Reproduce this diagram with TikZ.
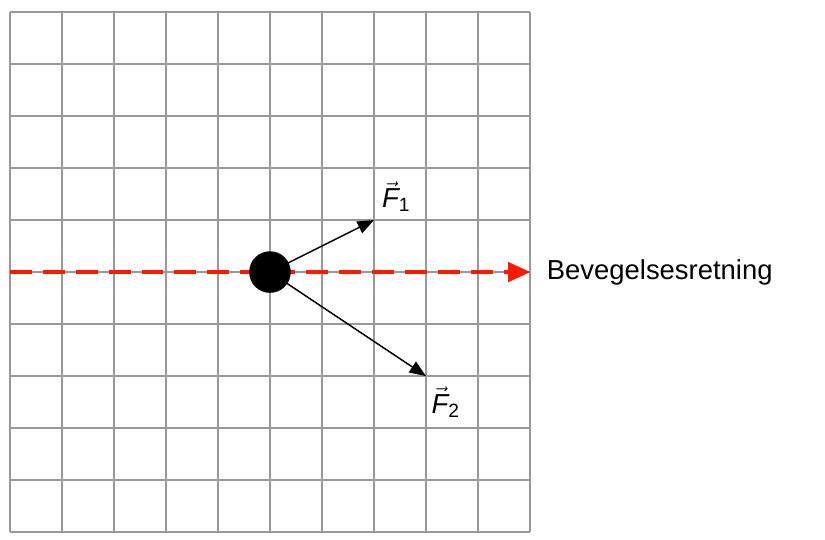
\documentclass[tikz,border=0pt]{standalone}
\usepackage{amsmath}
\usepackage{fontspec}
\setmainfont{Liberation Sans}
\usetikzlibrary{arrows.meta}
\begin{document}
\begin{tikzpicture}[
    force/.style={-{Triangle[length=9pt,width=7pt]},thick},
    lbl/.style={font=\fontsize{15}{17}\selectfont}]
        \useasboundingbox(-0.19,-0.15)rectangle(15.67,10.23);
        \draw[gray!80,thick](0,0)grid(10,10);

        \coordinate(O)at(5,5);
        \coordinate(L)at(0,5);
        \coordinate(R)at(10,5);
        \coordinate(A)at(7,6);
        \coordinate(B)at(8,3);

        \draw[red!80!orange,line width=2pt,dash pattern=on 12pt off 6pt](L)--(R);
        \draw[red!80!orange,-{Triangle[length=12pt,width=11pt]}](9.6,5)--(R);
        \node[lbl,right]at(10.2,5)(dir){Bevegelsesretning};

        \draw[force](O)--(A);
        \draw[force](O)--(B);
        \node[lbl,above right,inner sep=0pt]at(7.15,6.15)(F1){$\vec{\textit{F}}_{\text{1}}$};
        \node[lbl,below right,inner sep=0pt]at(8.1,2.8)(F2){$\vec{\textit{F}}_{\text{2}}$};
        \fill(O)circle(0.4);
    \end{tikzpicture}
\end{document}
